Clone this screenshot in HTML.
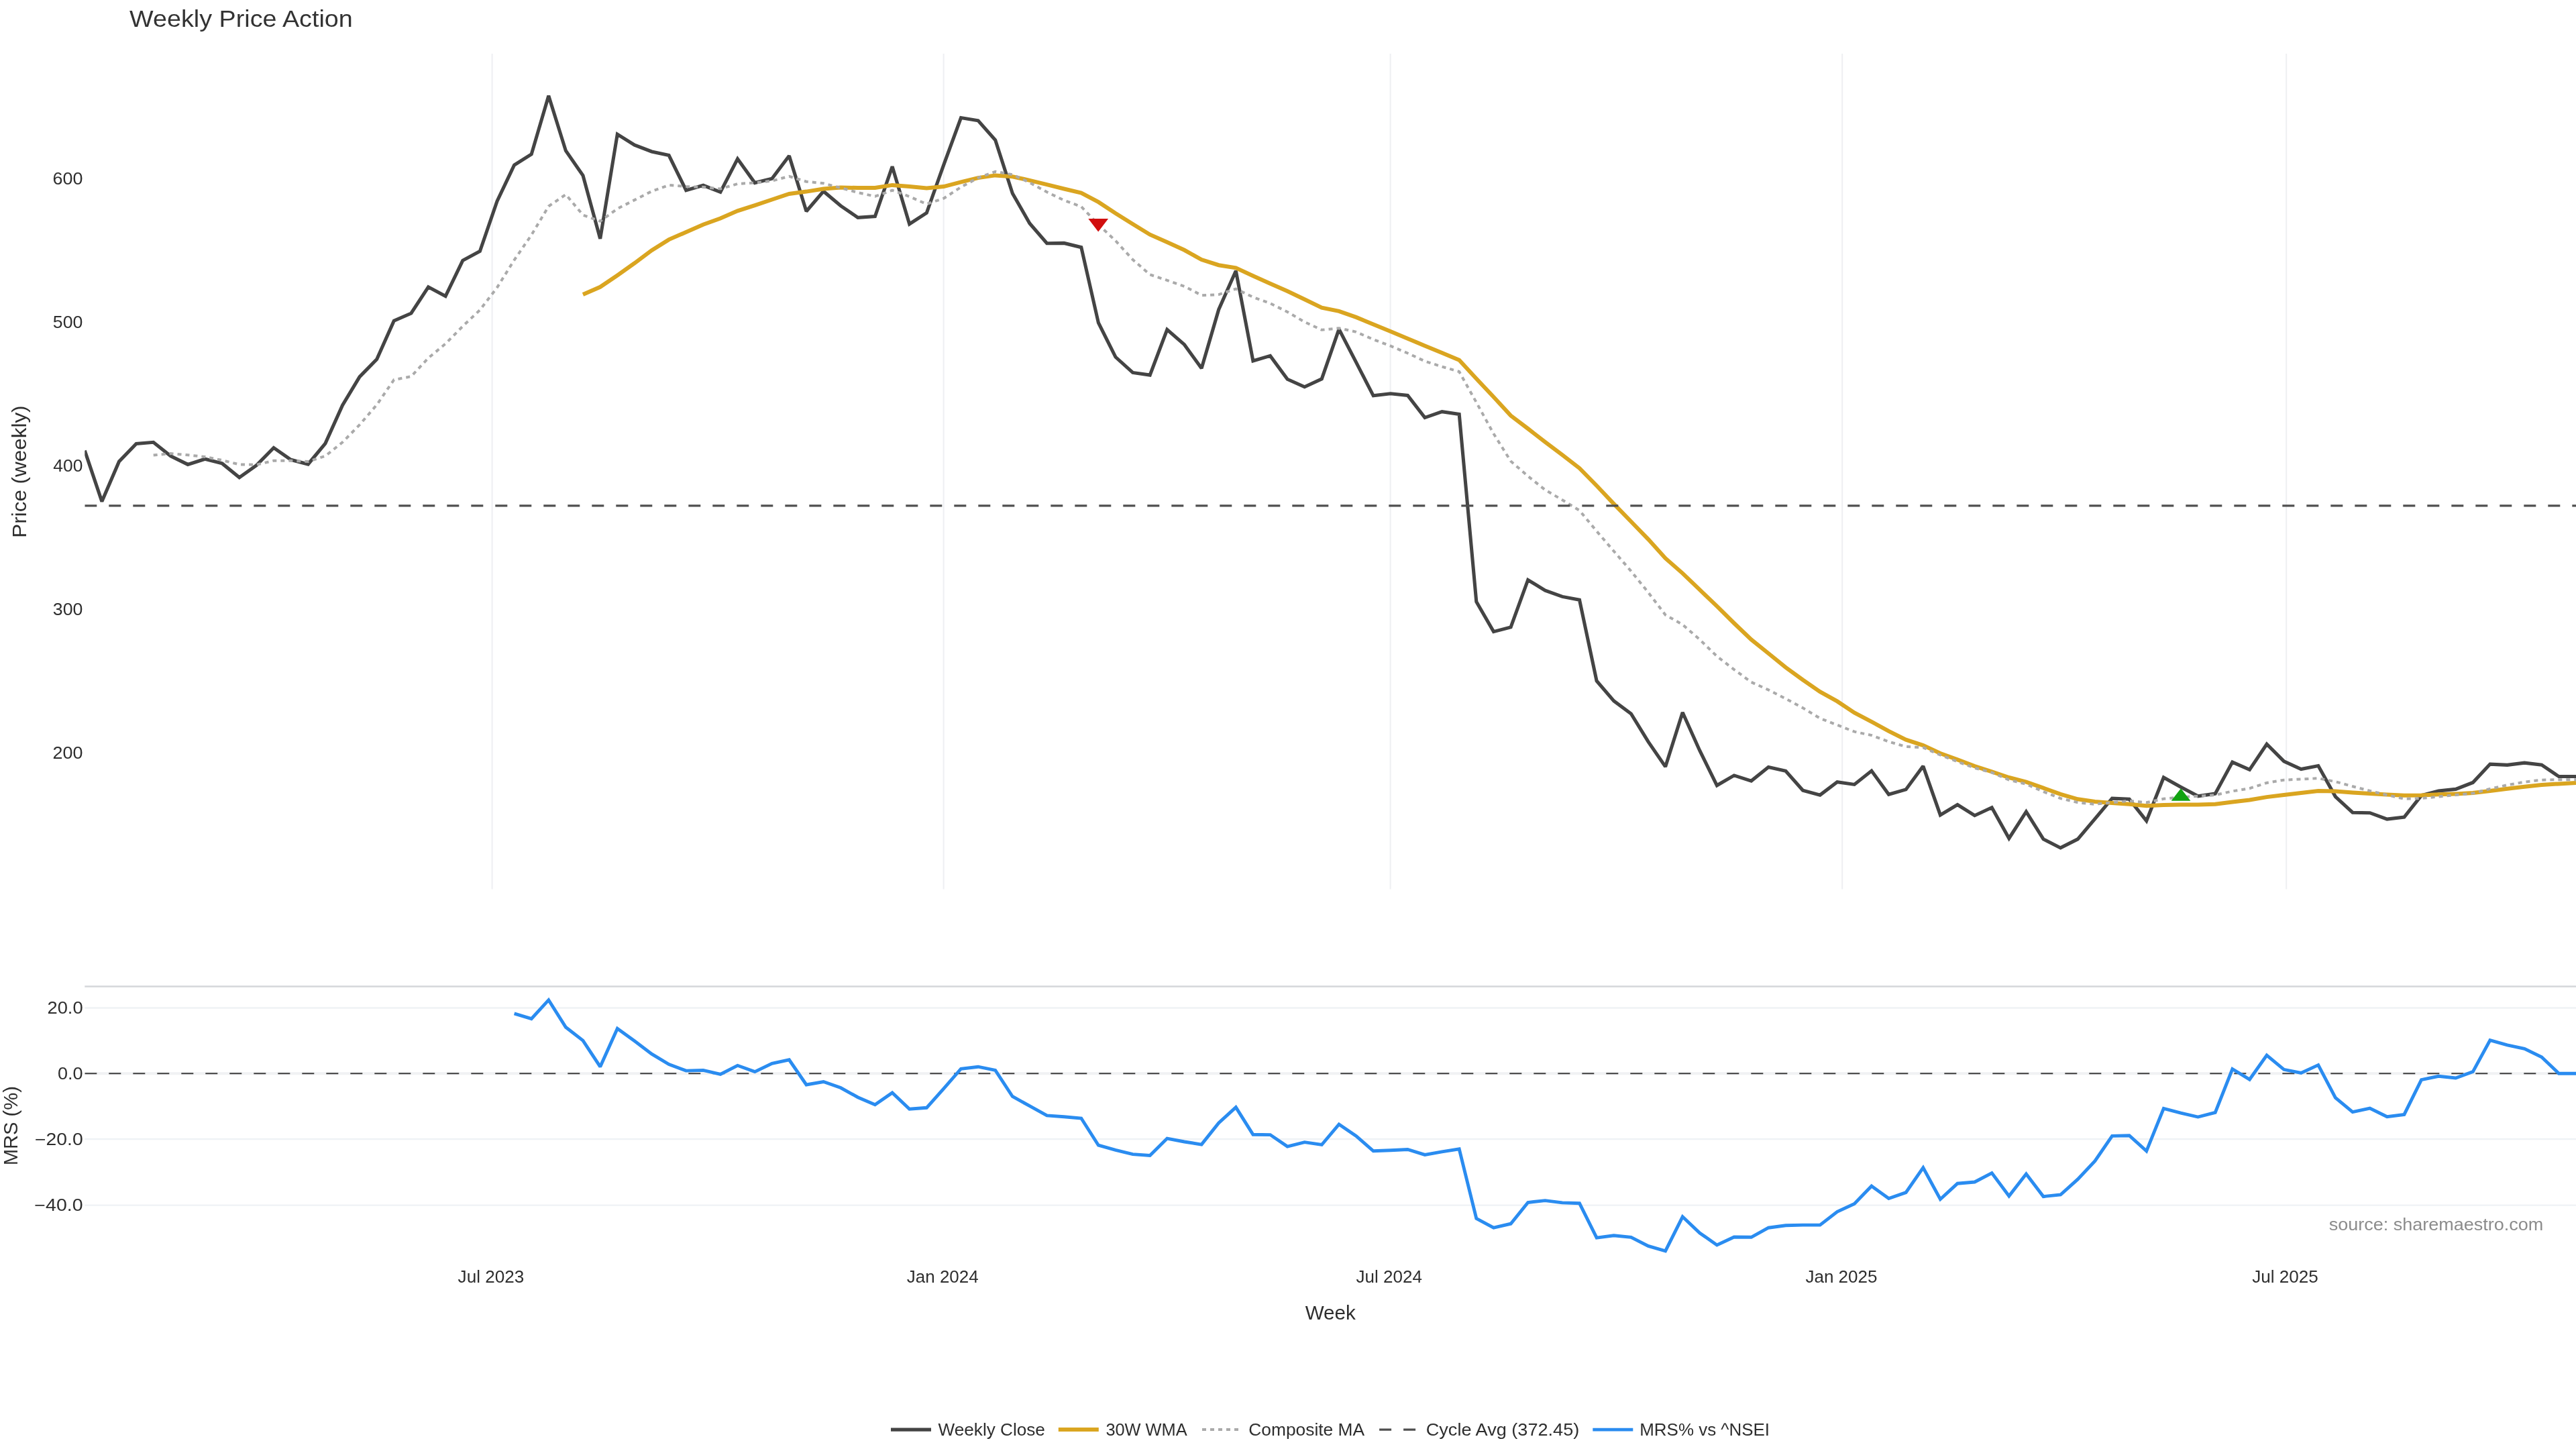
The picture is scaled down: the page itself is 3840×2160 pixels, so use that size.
<!DOCTYPE html>
<html><head><meta charset="utf-8"><title>Weekly Price Action</title>
<style>html,body{margin:0;padding:0;background:#fff;}body{width:3840px;height:2160px;overflow:hidden;}svg{display:block;font-family:"Liberation Sans",sans-serif;will-change:transform;}</style>
</head><body>
<svg width="3840" height="2160" viewBox="0 0 3840 2160">
<rect width="3840" height="2160" fill="#ffffff"/>
<defs><clipPath id="c1"><rect x="126.3" y="80" width="3713.7" height="1245.5"/></clipPath><clipPath id="c2"><rect x="126.3" y="1470" width="3713.7" height="420"/></clipPath></defs>
<line x1="733.6" y1="80" x2="733.6" y2="1325.5" stroke="#eeeff2" stroke-width="2"/>
<line x1="1406.6" y1="80" x2="1406.6" y2="1325.5" stroke="#eeeff2" stroke-width="2"/>
<line x1="2072.6" y1="80" x2="2072.6" y2="1325.5" stroke="#eeeff2" stroke-width="2"/>
<line x1="2746.2" y1="80" x2="2746.2" y2="1325.5" stroke="#eeeff2" stroke-width="2"/>
<line x1="3408.2" y1="80" x2="3408.2" y2="1325.5" stroke="#eeeff2" stroke-width="2"/>
<line x1="126.3" y1="1502.5" x2="3840" y2="1502.5" stroke="#eff2f5" stroke-width="2.3"/>
<line x1="126.3" y1="1698.0" x2="3840" y2="1698.0" stroke="#eff2f5" stroke-width="2.3"/>
<line x1="126.3" y1="1796.6" x2="3840" y2="1796.6" stroke="#eff2f5" stroke-width="2.3"/>
<line x1="126.3" y1="1600.3" x2="3840" y2="1600.3" stroke="#f1f2f4" stroke-width="4"/>
<line x1="126.3" y1="1470.5" x2="3840" y2="1470.5" stroke="#d5d7da" stroke-width="2.4"/>
<g clip-path="url(#c1)" fill="none" stroke-linejoin="miter" stroke-miterlimit="2">
<polyline points="126.3,671.6 151.9,747.6 177.5,688.0 203.1,661.5 228.7,659.3 254.4,679.8 280.0,692.4 305.6,684.2 331.2,690.9 356.8,711.8 382.4,693.5 408.0,667.5 433.6,685.3 459.3,692.0 484.9,661.1 510.5,604.1 536.1,561.6 561.7,535.5 587.3,478.1 612.9,467.0 638.5,427.8 664.1,441.6 689.8,388.3 715.4,374.5 741.0,300.0 766.6,246.0 792.2,229.9 817.8,142.7 843.4,224.7 869.0,261.6 894.7,355.9 920.3,200.1 945.9,216.1 971.5,226.0 997.1,231.6 1022.7,283.7 1048.3,276.3 1073.9,286.3 1099.5,236.8 1125.2,272.5 1150.8,266.2 1176.4,232.3 1202.0,315.0 1227.6,285.2 1253.2,306.8 1278.8,324.3 1304.4,322.5 1330.1,248.3 1355.7,334.0 1381.3,317.3 1406.9,245.3 1432.5,175.5 1458.1,179.8 1483.7,208.8 1509.3,288.2 1534.9,332.9 1560.6,362.7 1586.2,362.4 1611.8,368.7 1637.4,481.2 1663.0,532.3 1688.6,555.4 1714.2,559.1 1739.8,491.3 1765.5,513.7 1791.1,549.1 1816.7,461.5 1842.3,403.8 1867.9,537.9 1893.5,530.4 1919.1,565.2 1944.7,576.8 1970.3,564.8 1996.0,490.7 2021.6,540.2 2047.2,589.8 2072.8,586.8 2098.4,589.4 2124.0,622.6 2149.6,613.7 2175.2,617.4 2200.8,896.9 2226.5,941.6 2252.1,934.9 2277.7,864.5 2303.3,880.1 2328.9,889.4 2354.5,894.3 2380.1,1015.0 2405.7,1044.8 2431.4,1063.9 2457.0,1105.6 2482.6,1142.9 2508.2,1062.0 2533.8,1119.0 2559.4,1170.8 2585.0,1155.9 2610.6,1164.1 2636.2,1143.6 2661.9,1149.2 2687.5,1178.3 2713.1,1185.1 2738.7,1165.7 2764.3,1169.4 2789.9,1149.1 2815.5,1184.3 2841.1,1176.9 2866.8,1142.1 2892.4,1214.9 2918.0,1199.5 2943.6,1215.7 2969.2,1203.7 2994.8,1249.7 3020.4,1209.9 3046.0,1250.9 3071.6,1263.9 3097.3,1250.9 3122.9,1220.6 3148.5,1190.1 3174.1,1191.3 3199.7,1223.6 3225.3,1159.0 3250.9,1173.2 3276.5,1186.8 3302.2,1183.1 3327.8,1136.1 3353.4,1147.3 3379.0,1109.3 3404.6,1134.9 3430.2,1146.6 3455.8,1141.6 3481.4,1187.6 3507.0,1211.2 3532.7,1211.7 3558.3,1221.1 3583.9,1218.1 3609.5,1185.8 3635.1,1178.9 3660.7,1176.4 3686.3,1166.5 3711.9,1139.1 3737.6,1140.4 3763.2,1137.1 3788.8,1140.1 3814.4,1157.5 3840.0,1157.5" stroke="#444444" stroke-width="5.1"/>
<polyline points="869.0,439.0 894.7,427.8 920.3,410.4 945.9,392.3 971.5,373.2 997.1,357.1 1022.7,346.0 1048.3,334.8 1073.9,325.5 1099.5,314.3 1125.2,306.1 1150.8,297.5 1176.4,288.9 1202.0,285.6 1227.6,281.5 1253.2,279.6 1278.8,280.0 1304.4,280.0 1330.1,275.9 1355.7,278.1 1381.3,280.4 1406.9,278.1 1432.5,271.4 1458.1,265.1 1483.7,261.4 1509.3,263.2 1534.9,268.8 1560.6,275.2 1586.2,281.5 1611.8,287.5 1637.4,301.2 1663.0,318.0 1688.6,334.0 1714.2,349.7 1739.8,360.9 1765.5,372.8 1791.1,387.0 1816.7,395.2 1842.3,399.3 1867.9,411.2 1893.5,422.7 1919.1,434.0 1944.7,446.3 1970.3,458.6 1996.0,463.9 2021.6,472.9 2047.2,483.6 2072.8,494.0 2098.4,504.7 2124.0,515.4 2149.6,526.1 2175.2,536.8 2200.8,564.5 2226.5,591.7 2252.1,619.6 2277.7,639.0 2303.3,658.8 2328.9,678.1 2354.5,697.9 2380.1,724.0 2405.7,751.1 2431.4,777.5 2457.0,803.8 2482.6,832.2 2508.2,854.6 2533.8,879.2 2559.4,903.7 2585.0,929.0 2610.6,953.4 2636.2,974.0 2661.9,994.9 2687.5,1013.5 2713.1,1031.2 2738.7,1045.4 2764.3,1062.4 2789.9,1075.8 2815.5,1089.9 2841.1,1102.6 2866.8,1111.1 2892.4,1123.0 2918.0,1132.4 2943.6,1142.1 2969.2,1150.3 2994.8,1159.0 3020.4,1165.7 3046.0,1174.7 3071.6,1183.9 3097.3,1191.3 3122.9,1195.0 3148.5,1197.0 3174.1,1198.8 3199.7,1201.2 3225.3,1200.0 3250.9,1199.5 3276.5,1199.5 3302.2,1198.8 3327.8,1195.5 3353.4,1192.5 3379.0,1188.1 3404.6,1185.1 3430.2,1181.9 3455.8,1178.9 3481.4,1179.4 3507.0,1181.4 3532.7,1183.1 3558.3,1184.6 3583.9,1185.8 3609.5,1185.6 3635.1,1184.3 3660.7,1183.4 3686.3,1182.1 3711.9,1178.9 3737.6,1175.7 3763.2,1172.7 3788.8,1169.9 3814.4,1168.4 3840.0,1167.0" stroke="#daa520" stroke-width="6"/>
<polyline points="228.7,678.6 254.4,676.0 280.0,678.3 305.6,680.9 331.2,686.1 356.8,692.4 382.4,692.8 408.0,686.8 433.6,686.8 459.3,688.0 484.9,679.8 510.5,659.3 536.1,633.2 561.7,603.4 587.3,566.1 612.9,561.2 638.5,533.7 664.1,512.4 689.8,486.3 715.4,462.1 741.0,428.6 766.6,387.6 792.2,350.3 817.8,307.5 843.4,289.9 869.0,320.5 894.7,329.8 920.3,311.2 945.9,298.1 971.5,285.2 997.1,275.9 1022.7,278.1 1048.3,278.9 1073.9,281.5 1099.5,274.0 1125.2,272.5 1150.8,269.6 1176.4,262.9 1202.0,270.7 1227.6,273.3 1253.2,280.0 1278.8,287.1 1304.4,292.7 1330.1,283.7 1355.7,293.0 1381.3,304.2 1406.9,295.7 1432.5,278.9 1458.1,265.1 1483.7,255.8 1509.3,260.2 1534.9,272.2 1560.6,286.3 1586.2,298.6 1611.8,308.0 1637.4,334.8 1663.0,359.0 1688.6,387.0 1714.2,409.3 1739.8,417.9 1765.5,426.8 1791.1,440.2 1816.7,439.1 1842.3,430.6 1867.9,442.9 1893.5,452.2 1919.1,465.0 1944.7,479.9 1970.3,491.8 1996.0,489.2 2021.6,494.8 2047.2,506.0 2072.8,515.7 2098.4,526.5 2124.0,538.4 2149.6,546.6 2175.2,554.0 2200.8,599.9 2226.5,646.5 2252.1,687.5 2277.7,709.8 2303.3,730.3 2328.9,745.2 2354.5,760.9 2380.1,791.8 2405.7,821.6 2431.4,851.4 2457.0,883.1 2482.6,916.6 2508.2,931.1 2533.8,953.4 2559.4,978.3 2585.0,998.1 2610.6,1016.8 2636.2,1028.4 2661.9,1041.5 2687.5,1055.3 2713.1,1070.8 2738.7,1080.7 2764.3,1090.7 2789.9,1096.1 2815.5,1105.6 2841.1,1113.0 2866.8,1114.3 2892.4,1125.5 2918.0,1135.4 2943.6,1144.8 2969.2,1151.6 2994.8,1162.7 3020.4,1168.9 3046.0,1180.1 3071.6,1190.1 3097.3,1196.3 3122.9,1198.8 3148.5,1196.3 3174.1,1193.8 3199.7,1196.3 3225.3,1190.8 3250.9,1188.3 3276.5,1186.8 3302.2,1185.1 3327.8,1179.4 3353.4,1175.2 3379.0,1167.0 3404.6,1162.7 3430.2,1161.5 3455.8,1160.2 3481.4,1165.2 3507.0,1172.2 3532.7,1178.9 3558.3,1185.1 3583.9,1190.8 3609.5,1190.1 3635.1,1187.6 3660.7,1185.1 3686.3,1182.6 3711.9,1175.9 3737.6,1170.2 3763.2,1165.7 3788.8,1162.7 3814.4,1162.2 3840.0,1162.2" stroke="#aaaaaa" stroke-width="4" stroke-dasharray="6 6"/>
<line x1="126.3" y1="753.9" x2="3840" y2="753.9" stroke="#4f4f4f" stroke-width="3.4" stroke-dasharray="18 18"/>
</g>
<path d="M1622.30,326.05 H1652.10 L1637.20,345.40 Z" fill="#d10f0f"/>
<path d="M3236.62,1193.82 H3265.38 L3251.00,1175.15 Z" fill="#12a312"/>
<g clip-path="url(#c2)" fill="none" stroke-linejoin="miter" stroke-miterlimit="2">
<line x1="126.3" y1="1600.3" x2="3840" y2="1600.3" stroke="#3c3c3c" stroke-width="2" stroke-dasharray="18 18"/>
<polyline points="766.6,1510.8 792.2,1518.6 817.8,1490.7 843.4,1531.3 869.0,1551.1 894.7,1590.2 920.3,1533.2 945.9,1551.8 971.5,1571.2 997.1,1586.5 1022.7,1596.1 1048.3,1595.4 1073.9,1601.4 1099.5,1588.3 1125.2,1597.6 1150.8,1585.3 1176.4,1579.8 1202.0,1617.0 1227.6,1612.5 1253.2,1621.5 1278.8,1635.7 1304.4,1646.8 1330.1,1628.9 1355.7,1653.2 1381.3,1651.3 1406.9,1622.6 1432.5,1593.2 1458.1,1590.2 1483.7,1595.4 1509.3,1634.5 1534.9,1648.7 1560.6,1662.9 1586.2,1664.7 1611.8,1667.0 1637.4,1707.2 1663.0,1714.3 1688.6,1720.6 1714.2,1722.5 1739.8,1697.1 1765.5,1702.0 1791.1,1706.1 1816.7,1674.0 1842.3,1650.6 1867.9,1691.2 1893.5,1691.6 1919.1,1709.1 1944.7,1702.7 1970.3,1706.5 1996.0,1675.9 2021.6,1693.4 2047.2,1715.8 2072.8,1714.7 2098.4,1713.5 2124.0,1721.4 2149.6,1716.9 2175.2,1712.8 2200.8,1816.4 2226.5,1830.2 2252.1,1824.2 2277.7,1792.5 2303.3,1789.6 2328.9,1792.9 2354.5,1793.7 2380.1,1845.1 2405.7,1841.7 2431.4,1844.3 2457.0,1857.4 2482.6,1864.8 2508.2,1813.8 2533.8,1838.0 2559.4,1855.9 2585.0,1844.0 2610.6,1844.3 2636.2,1830.2 2661.9,1826.8 2687.5,1826.1 2713.1,1826.1 2738.7,1806.3 2764.3,1794.4 2789.9,1768.0 2815.5,1786.6 2841.1,1777.6 2866.8,1740.7 2892.4,1787.7 2918.0,1764.2 2943.6,1762.0 2969.2,1748.6 2994.8,1782.9 3020.4,1750.1 3046.0,1783.6 3071.6,1781.0 3097.3,1757.9 3122.9,1730.7 3148.5,1693.4 3174.1,1692.7 3199.7,1715.8 3225.3,1652.4 3250.9,1659.1 3276.5,1665.1 3302.2,1658.4 3327.8,1593.5 3353.4,1609.2 3379.0,1573.0 3404.6,1594.3 3430.2,1599.5 3455.8,1587.6 3481.4,1636.4 3507.0,1657.6 3532.7,1652.0 3558.3,1664.7 3583.9,1661.4 3609.5,1609.6 3635.1,1604.3 3660.7,1607.0 3686.3,1597.6 3711.9,1550.7 3737.6,1557.8 3763.2,1563.4 3788.8,1575.7 3814.4,1600.2 3840.0,1600.2" stroke="#2a8cf0" stroke-width="4.9"/>
</g>
<text transform="translate(193.11,40.10) scale(1.0544,1)" font-size="35.80" fill="#333333">Weekly Price Action</text>
<text transform="translate(78.56,274.90) scale(1.0674,1)" font-size="25.20" fill="#2e2e2e">600</text>
<text transform="translate(78.83,488.90) scale(1.0607,1)" font-size="25.20" fill="#2e2e2e">500</text>
<text transform="translate(79.37,702.85) scale(1.0475,1)" font-size="25.20" fill="#2e2e2e">400</text>
<text transform="translate(78.83,916.80) scale(1.0607,1)" font-size="25.20" fill="#2e2e2e">300</text>
<text transform="translate(78.56,1130.80) scale(1.0674,1)" font-size="25.20" fill="#2e2e2e">200</text>
<text transform="translate(70.43,1511.00) scale(1.0859,1)" font-size="25.20" fill="#2e2e2e">20.0</text>
<text transform="translate(86.02,1608.80) scale(1.0743,1)" font-size="25.20" fill="#2e2e2e">0.0</text>
<text transform="translate(51.88,1706.50) scale(1.1264,1)" font-size="25.20" fill="#2e2e2e">−20.0</text>
<text transform="translate(51.37,1805.10) scale(1.1345,1)" font-size="25.20" fill="#2e2e2e">−40.0</text>
<text transform="translate(39.20,801.71) rotate(-90) scale(1.0475,1)" font-size="30.00" fill="#2e2e2e">Price (weekly)</text>
<text transform="translate(25.95,1737.33) rotate(-90) scale(0.9719,1)" font-size="30.00" fill="#2e2e2e">MRS (%)</text>
<text transform="translate(682.61,1911.90) scale(1.0355,1)" font-size="25.20" fill="#2e2e2e">Jul 2023</text>
<text transform="translate(1351.81,1911.90) scale(1.0306,1)" font-size="25.20" fill="#2e2e2e">Jan 2024</text>
<text transform="translate(2021.61,1911.90) scale(1.0327,1)" font-size="25.20" fill="#2e2e2e">Jul 2024</text>
<text transform="translate(2691.41,1911.90) scale(1.0331,1)" font-size="25.20" fill="#2e2e2e">Jan 2025</text>
<text transform="translate(3357.21,1911.90) scale(1.0355,1)" font-size="25.20" fill="#2e2e2e">Jul 2025</text>
<text transform="translate(1945.65,1966.70) scale(0.9875,1)" font-size="30.00" fill="#2e2e2e">Week</text>
<text transform="translate(3471.69,1834.05) scale(1.0550,1)" font-size="25.60" fill="#8c8c8c">source: sharemaestro.com</text>
<line x1="1328" y1="2131.1" x2="1388" y2="2131.1" stroke="#444444" stroke-width="5.1"/>
<line x1="1577.8" y1="2131.1" x2="1637.8" y2="2131.1" stroke="#daa520" stroke-width="6"/>
<line x1="1792" y1="2131.1" x2="1852" y2="2131.1" stroke="#aaaaaa" stroke-width="4" stroke-dasharray="6 6"/>
<line x1="2056.1" y1="2131.1" x2="2116.1" y2="2131.1" stroke="#4f4f4f" stroke-width="3.4" stroke-dasharray="18 18"/>
<line x1="2374.3" y1="2131.1" x2="2434.3" y2="2131.1" stroke="#2a8cf0" stroke-width="4.9"/>
<text transform="translate(1398.57,2139.60) scale(1.0290,1)" font-size="25.40" fill="#2e2e2e">Weekly Close</text>
<text transform="translate(1648.38,2139.60) scale(0.9994,1)" font-size="25.40" fill="#2e2e2e">30W WMA</text>
<text transform="translate(1861.28,2139.60) scale(1.0380,1)" font-size="25.40" fill="#2e2e2e">Composite MA</text>
<text transform="translate(2125.74,2139.60) scale(1.0675,1)" font-size="25.40" fill="#2e2e2e">Cycle Avg (372.45)</text>
<text transform="translate(2444.22,2139.60) scale(1.0220,1)" font-size="25.40" fill="#2e2e2e">MRS% vs ^NSEI</text>
</svg></body></html>
